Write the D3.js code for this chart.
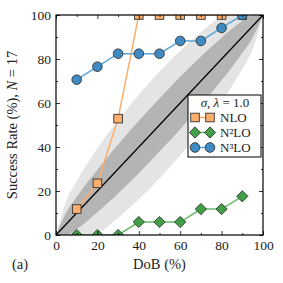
<!DOCTYPE html>
<html>
<head>
<meta charset="utf-8">
<script src="https://cdn.jsdelivr.net/npm/d3@7"></script>
<style>
  body { margin: 0; background: #fff; }
  text { font-family: "Liberation Serif", serif; fill: #222; }
</style>
</head>
<body>
<svg id="chart" width="283" height="283"></svg>
<script>
// values (N = 17, so steps of 1/17)
var dob = [10, 20, 30, 40, 50, 60, 70, 80, 90];
var nlo = [11.8, 23.5, 52.9, 100, 100, 100, 100, 100, 100];
var n2lo = [0, 0, 0, 5.9, 5.9, 5.9, 11.8, 11.8, 17.6];
var n3lo = [70.6, 76.5, 82.4, 82.4, 82.4, 88.2, 88.2, 94.1, 100];

// grey bands around the diagonal
var bandX   = [0, 5, 10, 15, 20, 25, 30, 35, 40, 45, 50, 55, 60, 65, 70, 75, 80, 85, 90, 95, 100];
var darkLo  = [0, 0, 2.7, 6.3, 10.3, 14.5, 18.9, 23.4, 28.1, 32.9, 37.9, 42.9, 48.1, 53.4, 58.9, 64.5, 70.3, 76.3, 82.7, 89.7, 100];
var darkHi  = [0, 10.3, 17.3, 23.7, 29.7, 35.5, 41.1, 46.6, 51.9, 57.1, 62.1, 67.1, 71.9, 76.6, 81.1, 85.5, 89.7, 93.7, 97.3, 100, 100];
var lightLo = [0, 0, 0, 0, 0.6, 4.0, 7.8, 11.9, 16.2, 20.9, 25.7, 30.9, 36.2, 41.9, 47.8, 54.0, 60.6, 67.7, 75.4, 84.4, 100];
var lightHi = [0, 15.6, 24.6, 32.3, 39.4, 46.0, 52.2, 58.1, 63.8, 69.1, 74.3, 79.1, 83.8, 88.1, 92.2, 96.0, 99.4, 100, 100, 100, 100];

var majorTicks = [0, 20, 40, 60, 80, 100];
var minorTicks = [10, 30, 50, 70, 90];

var svg = d3.select("#chart"),
    margin = {top: 15, right: 20, bottom: 48, left: 56},
    width = +svg.attr("width") - margin.left - margin.right,
    height = +svg.attr("height") - margin.top - margin.bottom;
var g = svg.append("g").attr("transform", "translate(" + margin.left + "," + margin.top + ")");

var x = d3.scaleLinear().domain([0, 100]).range([0, width]);
var y = d3.scaleLinear().domain([0, 100]).range([height, 0]);

g.append("clipPath").attr("id", "clip")
  .append("rect").attr("width", width).attr("height", height);

var plot = g.append("g").attr("clip-path", "url(#clip)");

function band(lo, hi) {
  return d3.area()
    .x(function(d, i) { return x(bandX[i]); })
    .y0(function(d, i) { return y(lo[i]); })
    .y1(function(d, i) { return y(hi[i]); })
    .curve(d3.curveMonotoneX)(bandX);
}
plot.append("path").attr("d", band(lightLo, lightHi)).attr("fill", "#e4e4e4");
plot.append("path").attr("d", band(darkLo, darkHi)).attr("fill", "#b4b4b4");

plot.append("line")
  .attr("x1", x(0)).attr("y1", y(0)).attr("x2", x(100)).attr("y2", y(100))
  .attr("stroke", "#000").attr("stroke-width", 1.3);

var series = [
  {name: "NLO", values: nlo, line: "#fdae6b", fill: "#fdae6b", shape: "square"},
  {name: "N²LO", values: n2lo, line: "#66bb66", fill: "#41a047", shape: "diamond"},
  {name: "N³LO", values: n3lo, line: "#5aa5d8", fill: "#3e8ac2", shape: "circle"}
];

function marker(sel, shape) {
  if (shape === "square") {
    sel.append("rect").attr("x", -4.3).attr("y", -4.3).attr("width", 8.6).attr("height", 8.6);
  } else if (shape === "diamond") {
    sel.append("path").attr("d", "M0,-5.6L5.6,0L0,5.6L-5.6,0Z");
  } else {
    sel.append("circle").attr("r", 4.8);
  }
}

var line = d3.line()
  .x(function(d, i) { return x(dob[i]); })
  .y(function(d) { return y(d); });

series.forEach(function(s) {
  plot.append("path")
    .attr("d", line(s.values))
    .attr("fill", "none")
    .attr("stroke", s.line)
    .attr("stroke-width", 1.5);
  plot.selectAll(null)
    .data(s.values)
    .enter().append("g")
    .attr("transform", function(d, i) { return "translate(" + x(dob[i]) + "," + y(d) + ")"; })
    .attr("fill", s.fill)
    .attr("stroke", "#333")
    .attr("stroke-width", 0.9)
    .each(function() { marker(d3.select(this), s.shape); });
});

// axes, ticks pointing in on all four sides
function ticks(axis, vals, size, labels) {
  return axis.tickValues(vals).tickSize(-size).tickPadding(5)
    .tickFormat(labels ? d3.format("d") : "");
}
var axes = [
  [d3.axisBottom(x), "translate(0," + height + ")", true],
  [d3.axisLeft(y), null, true],
  [d3.axisTop(x), null, false],
  [d3.axisRight(y), "translate(" + width + ",0)", false]
];
axes.forEach(function(a) {
  [[majorTicks, 4, a[2]], [minorTicks, 2, false]].forEach(function(t) {
    var ax = g.append("g")
      .attr("transform", a[1])
      .call(ticks(a[0], t[0], t[1], t[2]));
    ax.select(".domain").remove();
    ax.selectAll("line").attr("stroke", "#000").attr("stroke-width", 0.8);
    ax.selectAll("text").attr("font-size", 13.5).attr("font-family", "Liberation Serif").attr("fill", "#222");
  });
});

g.append("rect")
  .attr("width", width).attr("height", height)
  .attr("fill", "none").attr("stroke", "#000").attr("stroke-width", 1.2);

// legend
var lg = g.append("g").attr("transform", "translate(" + (width - 75) + "," + 80 + ")");
lg.append("rect").attr("width", 73).attr("height", 62)
  .attr("fill", "#fff").attr("stroke", "#000").attr("stroke-width", 1);
var lt = lg.append("text").attr("x", 37).attr("y", 11.5).attr("text-anchor", "middle").attr("font-size", 13);
lt.append("tspan").attr("font-style", "italic").text("σ");
lt.append("tspan").text(", ");
lt.append("tspan").attr("font-style", "italic").text("λ");
lt.append("tspan").text(" = 1.0");

series.forEach(function(s, i) {
  var yy = 22.5 + i * 15;
  lg.append("line").attr("x1", 7).attr("x2", 22).attr("y1", yy).attr("y2", yy)
    .attr("stroke", s.line).attr("stroke-width", 1.5);
  [7, 22].forEach(function(mx) {
    var m = lg.append("g").attr("transform", "translate(" + mx + "," + yy + ")")
      .attr("fill", s.fill).attr("stroke", "#333").attr("stroke-width", 0.9);
    marker(m, s.shape);
  });
  lg.append("text").attr("x", 32).attr("y", yy + 4.5).attr("font-size", 13).text(s.name);
});

// axis titles
svg.append("text")
  .attr("x", margin.left + width / 2).attr("y", 269)
  .attr("text-anchor", "middle").attr("font-size", 14.5)
  .text("DoB (%)");

svg.append("text").attr("x", 12).attr("y", 269).attr("font-size", 14.5).text("(a)");

var yl = svg.append("text")
  .attr("transform", "translate(17," + (margin.top + height / 2) + ") rotate(-90)")
  .attr("text-anchor", "middle").attr("font-size", 14.5);
yl.append("tspan").text("Success Rate (%), ");
yl.append("tspan").attr("font-style", "italic").text("N");
yl.append("tspan").text(" = 17");
</script>
</body>
</html>
